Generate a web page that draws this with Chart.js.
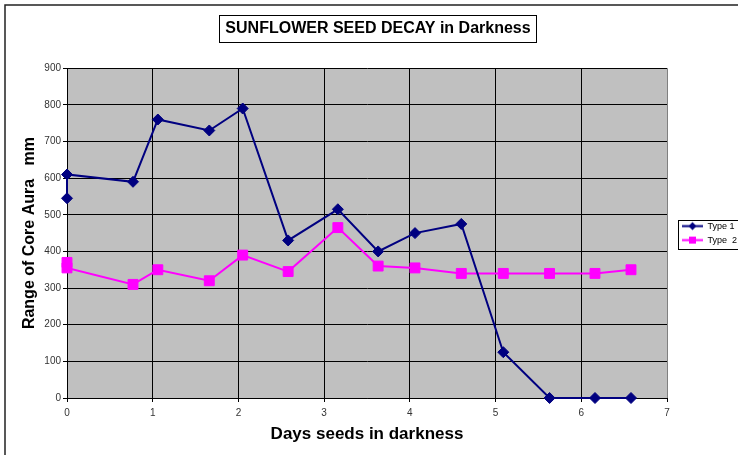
<!DOCTYPE html>
<html>
<head>
<meta charset="utf-8">
<title>Sunflower seed decay</title>
<script src="https://cdn.jsdelivr.net/npm/chart.js@4.4.1/dist/chart.umd.min.js"></script>
<style>
  html, body { margin: 0; padding: 0; background: #fff; overflow: hidden; }
  #chart { display: block; }
</style>
</head>
<body>
<canvas id="chart" width="738" height="455"></canvas>
<script>
// values
const days = [0, 0, 0.77, 1.06, 1.66, 2.05, 2.58, 3.16, 3.63, 4.06, 4.6, 5.09, 5.63, 6.16, 6.58];
const type1 = [545, 610, 590, 760, 730, 790, 430, 515, 400, 450, 475, 125, 0, 0, 0];
const type2 = [370, 355, 310, 350, 320, 390, 345, 465, 360, 355, 340, 340, 340, 340, 350];
const seriesNames = ["Type 1", "Type  2"];
const xTickValues = [0, 1, 2, 3, 4, 5, 6, 7];
const yTickValues = [0, 100, 200, 300, 400, 500, 600, 700, 800, 900];

const navy = "#000080";
const magenta = "#FF00FF";

// little line + marker picture for the legend
function legendIcon(color, style) {
  const c = document.createElement("canvas");
  c.width = 31;
  c.height = 11;
  const g = c.getContext("2d");
  g.strokeStyle = color;
  g.fillStyle = color;
  g.lineWidth = 2;
  g.beginPath();
  g.moveTo(10, 5.5);
  g.lineTo(31, 5.5);
  g.stroke();
  const cx = 20.5, cy = 5.5;
  g.beginPath();
  if (style === "diamond") {
    g.moveTo(cx, cy - 4);
    g.lineTo(cx + 4, cy);
    g.lineTo(cx, cy + 4);
    g.lineTo(cx - 4, cy);
    g.closePath();
  } else {
    g.rect(cx - 3.5, cy - 3.5, 7, 7);
  }
  g.fill();
  return c;
}
const legendIcons = [legendIcon(navy, "diamond"), legendIcon(magenta, "square")];

// grey plot area, outer frame, boxes round title and legend
const framePlugin = {
  id: "frame",
  beforeDraw(chart) {
    const { ctx, chartArea } = chart;
    ctx.save();
    ctx.fillStyle = "#C0C0C0";
    ctx.fillRect(chartArea.left, chartArea.top, chartArea.right - chartArea.left, chartArea.bottom - chartArea.top);
    ctx.strokeStyle = "#222";
    ctx.lineWidth = 1.5;
    ctx.strokeRect(5, 5, 1000, 1000);
    ctx.restore();
  },
  afterDraw(chart) {
    const { ctx } = chart;
    ctx.save();
    ctx.strokeStyle = "#000";
    ctx.lineWidth = 1;

    const t = chart.titleBlock;
    const tOpts = chart.options.plugins.title;
    ctx.font = Chart.helpers.toFont(tOpts.font).string;
    const w = ctx.measureText(tOpts.text).width;
    const cx = (t.left + t.right) / 2;
    const cy = t.top + tOpts.padding.top + 19.2 / 2;
    ctx.strokeRect(Math.round(cx - w / 2 - 6) + 0.5, Math.round(cy - 14) + 0.5, Math.round(w + 12), 27);

    const hb = chart.legend.legendHitBoxes;
    if (hb && hb.length) {
      const first = hb[0], last = hb[hb.length - 1];
      const top = Math.round(first.top - 2) + 0.5;
      const bottom = Math.round(last.top + last.height + 4) + 0.5;
      ctx.strokeRect(Math.round(first.left + 6) + 0.5, top, 200, bottom - top);
    }
    ctx.restore();
  }
};

const tickFont = { family: "Arial, 'Liberation Sans', sans-serif", size: 10 };

new Chart(document.getElementById("chart"), {
  type: "line",
  data: {
    datasets: [
      {
        label: seriesNames[0],
        data: days.map((d, i) => ({ x: d, y: type1[i] })),
        borderColor: navy,
        backgroundColor: navy,
        borderWidth: 2,
        pointStyle: "rectRot",
        pointRadius: 5.5,
        pointBorderWidth: 1,
        pointBackgroundColor: navy,
        pointBorderColor: navy,
        tension: 0,
        clip: false
      },
      {
        label: seriesNames[1],
        data: days.map((d, i) => ({ x: d, y: type2[i] })),
        borderColor: magenta,
        backgroundColor: magenta,
        borderWidth: 2,
        pointStyle: "rect",
        pointRadius: 7,
        pointBorderWidth: 1,
        pointBackgroundColor: magenta,
        pointBorderColor: magenta,
        tension: 0,
        clip: false
      }
    ]
  },
  options: {
    responsive: false,
    animation: false,
    events: [],
    layout: { padding: { left: 18, right: 0, top: 0, bottom: 0 } },
    plugins: {
      title: {
        display: true,
        text: "SUNFLOWER SEED DECAY in Darkness",
        color: "#000",
        font: { family: "Arial, 'Liberation Sans', sans-serif", size: 16, weight: "bold" },
        padding: { top: 19, bottom: 30 }
      },
      legend: {
        position: "right",
        fullSize: false,
        maxWidth: 71,
        labels: {
          usePointStyle: true,
          pointStyleWidth: 31,
          padding: 5,
          color: "#000",
          font: { family: "Arial, 'Liberation Sans', sans-serif", size: 9 },
          generateLabels(chart) {
            const items = Chart.defaults.plugins.legend.labels.generateLabels(chart);
            items.forEach((it, i) => { it.pointStyle = legendIcons[i]; });
            return items;
          }
        }
      },
      tooltip: { enabled: false }
    },
    scales: {
      x: {
        type: "linear",
        position: "bottom",
        min: 0,
        max: 7,
        afterBuildTicks(axis) { axis.ticks = xTickValues.map(v => ({ value: v })); },
        afterFit(axis) { axis.height = 57; },
        ticks: { color: "#333", font: tickFont, padding: 5, maxRotation: 0 },
        grid: {
          color: c => (c.tick && c.tick.value === 7 ? "#808080" : "#000"),
          tickColor: "#000",
          tickLength: 4,
          lineWidth: 1
        },
        border: { color: "#000", width: 1 },
        title: {
          display: true,
          text: "Days seeds in darkness",
          color: "#000",
          font: { family: "Arial, 'Liberation Sans', sans-serif", size: 17, weight: "bold" },
          padding: { top: 0, bottom: 10 }
        }
      },
      y: {
        min: 0,
        max: 900,
        afterBuildTicks(axis) { axis.ticks = yTickValues.map(v => ({ value: v })); },
        afterFit(axis) { axis.width = 49; },
        ticks: { color: "#333", font: tickFont, padding: 2 },
        grid: { color: "#000", tickColor: "#000", tickLength: 4, lineWidth: 1 },
        border: { color: "#000", width: 1 },
        title: {
          display: true,
          text: "Range of Core Aura   mm",
          color: "#000",
          font: { family: "Arial, 'Liberation Sans', sans-serif", size: 16, weight: "bold" },
          padding: { top: 2, bottom: 0 }
        }
      }
    }
  },
  plugins: [framePlugin]
});
</script>
</body>
</html>
